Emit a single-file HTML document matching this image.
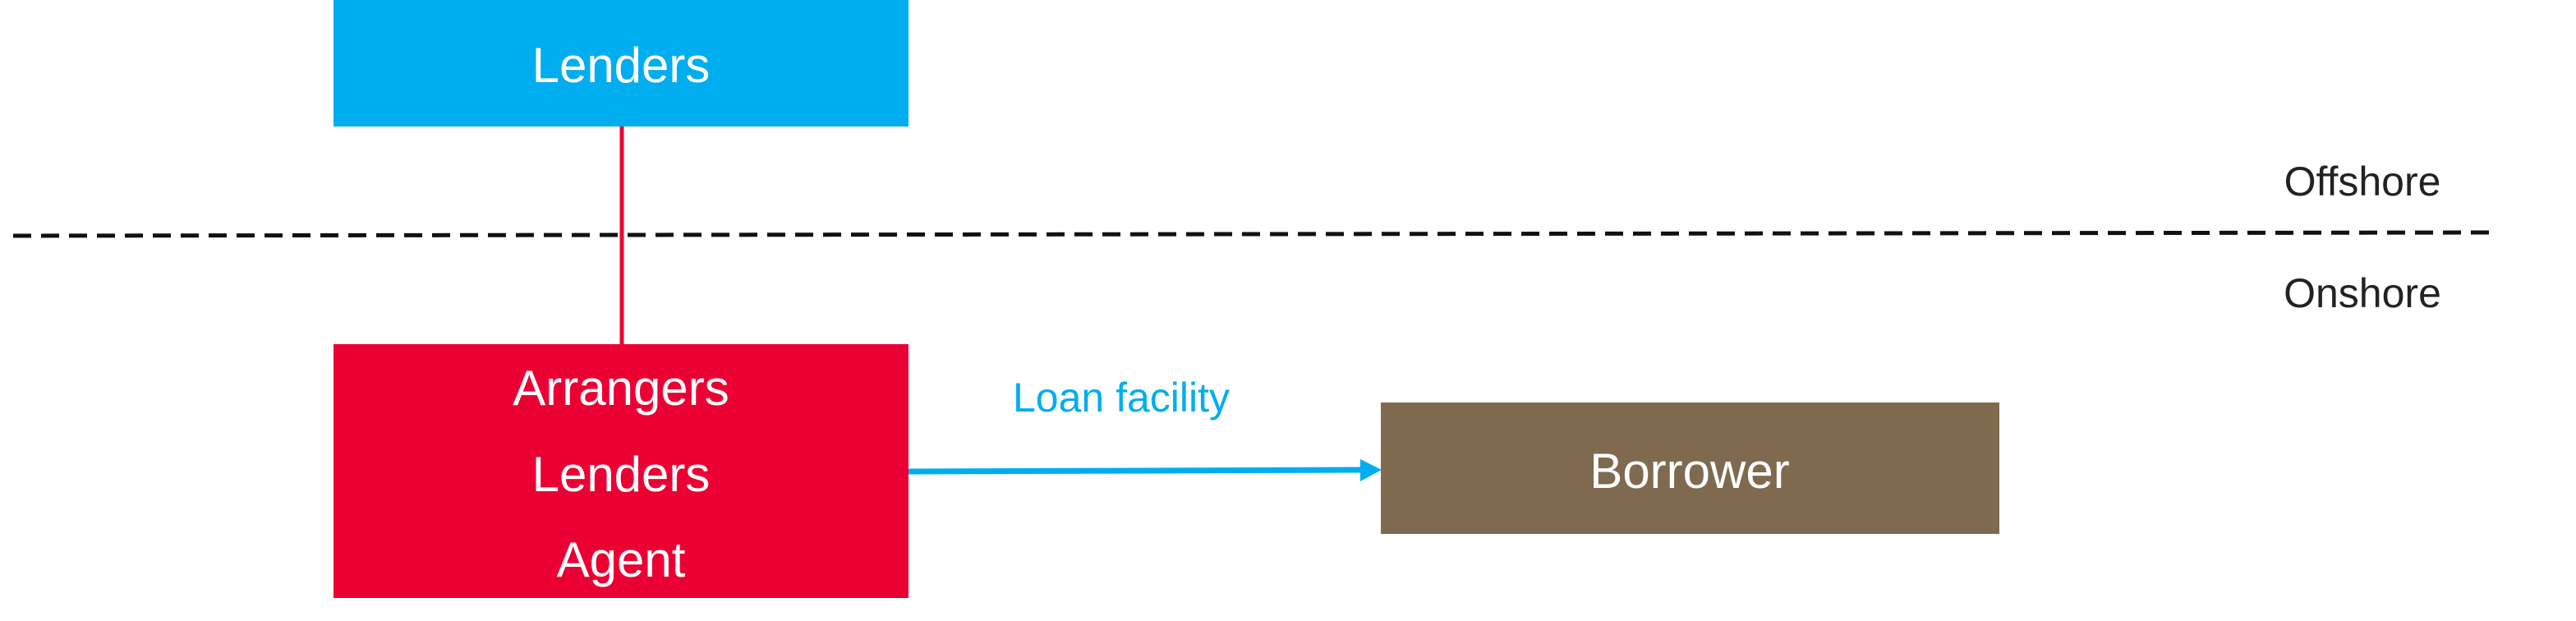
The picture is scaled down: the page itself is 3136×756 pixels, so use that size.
<!DOCTYPE html>
<html><head><meta charset="utf-8"><style>html,body{margin:0;padding:0;background:#fff;}svg{display:block}</style></head>
<body>
<svg width="3136" height="756" viewBox="0 0 3136 756" xmlns="http://www.w3.org/2000/svg" font-family="Liberation Sans, sans-serif">
<rect x="406" y="0" width="700" height="154" fill="#00AEEF"/>
<text x="756" y="100" font-size="60" fill="#fff" text-anchor="middle">Lenders</text>
<line x1="757" y1="154" x2="757" y2="420" stroke="#EB0033" stroke-width="5"/>
<line x1="16" y1="287" x2="3030" y2="283" stroke="#111" stroke-width="5" stroke-dasharray="22 12"/>
<text x="2876" y="238" font-size="50" fill="#222" text-anchor="middle">Offshore</text>
<text x="2876" y="374" font-size="50" fill="#222" text-anchor="middle">Onshore</text>
<rect x="406" y="419" width="700" height="309" fill="#EB0033"/>
<text x="756" y="493" font-size="60" fill="#fff" text-anchor="middle">Arrangers</text>
<text x="756" y="598" font-size="60" fill="#fff" text-anchor="middle">Lenders</text>
<text x="756" y="702" font-size="60" fill="#fff" text-anchor="middle">Agent</text>
<text x="1365" y="501" font-size="50" fill="#00AEEF" text-anchor="middle">Loan facility</text>
<line x1="1106" y1="574" x2="1660" y2="572" stroke="#00AEEF" stroke-width="7"/>
<polygon points="1656,559 1682,572 1656,586" fill="#00AEEF"/>
<rect x="1681" y="490" width="753" height="160" fill="#7F6A4F"/>
<text x="2057" y="594" font-size="60" fill="#fff" text-anchor="middle">Borrower</text>
</svg>
</body></html>
